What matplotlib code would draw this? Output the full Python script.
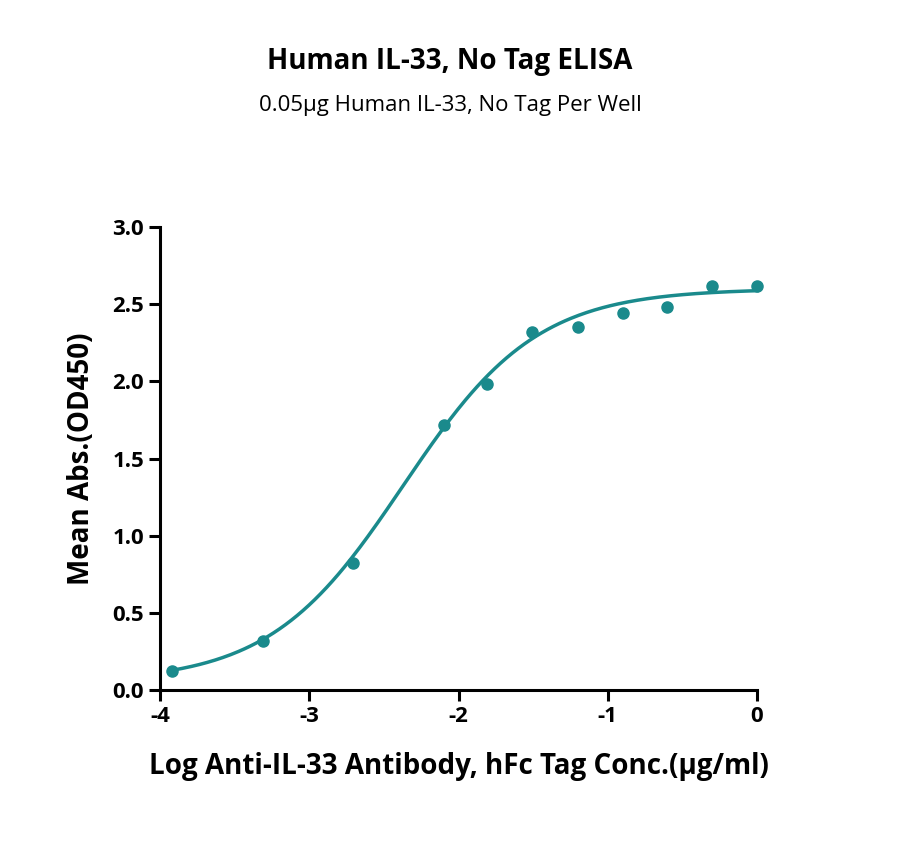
import numpy as np
import matplotlib
matplotlib.use("Agg")
import matplotlib.pyplot as plt

plt.rcParams['font.family'] = ['Open Sans', 'DejaVu Sans']

log_conc = [-3.92, -3.31, -2.71, -2.1, -1.81, -1.51, -1.2, -0.9, -0.6, -0.3, 0.0]
od450 = [0.12, 0.32, 0.82, 1.72, 1.98, 2.32, 2.35, 2.44, 2.48, 2.62, 2.62]
# 4PL fit parameters (bottom, top, logEC50, hill)
fit = (0.05, 2.6, -2.37, 0.97)

color = '#1a8a8c'
fig = plt.figure(figsize=(9, 8.46), dpi=100)
ax = fig.add_axes([160/900, 1-690/846, 597/900, 463/846])
xs = np.linspace(-3.92, 0, 300)
b, t, c, h = fit
ax.plot(xs, b + (t-b)/(1+10**((c-xs)*h)), color=color, lw=2.5, clip_on=False)
ax.plot(log_conc, od450, 'o', color=color, ms=8, clip_on=False)
ax.set_xlim(-4, 0)
ax.set_ylim(0, 3)
ax.set_xticks([-4, -3, -2, -1, 0])
ax.set_xticklabels(['-4', '-3', '-2', '-1', '0'])
ax.set_yticks(np.arange(0, 3.01, 0.5))
ax.set_yticklabels([f'{v:.1f}' for v in np.arange(0, 3.01, 0.5)])
for s in ['top', 'right']:
    ax.spines[s].set_visible(False)
for s in ['left', 'bottom']:
    ax.spines[s].set_linewidth(2.2)
    ax.spines[s].set_color('black')
ax.tick_params(width=2.2, length=8, labelsize=16)
for lab in ax.get_xticklabels() + ax.get_yticklabels():
    lab.set_fontweight('bold')
ax.set_xlabel('Log Anti-IL-33 Antibody, hFc Tag Conc.(μg/ml)', fontsize=20, fontweight='bold', labelpad=18)
ax.set_ylabel('Mean Abs.(OD450)', fontsize=20, fontweight='bold', labelpad=12)
fig.text(0.5, 1-62/846, 'Human IL-33, No Tag ELISA', ha='center', va='center', fontsize=20, fontweight='bold')
fig.text(0.5, 1-105/846, '0.05μg Human IL-33, No Tag Per Well', ha='center', va='center', fontsize=16)
fig.savefig('out.png', dpi=100)
